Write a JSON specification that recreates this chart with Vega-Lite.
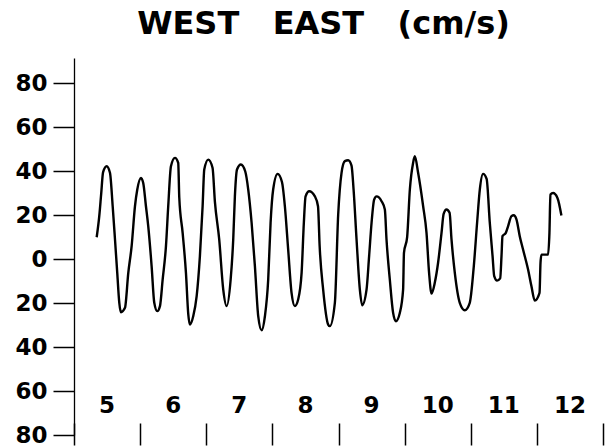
{
  "$schema": "https://vega.github.io/schema/vega-lite/v6.json",
  "width": 529,
  "height": 377,
  "autosize": "none",
  "padding": {"left": 74, "top": 58, "right": 13, "bottom": 12},
  "background": "white",
  "title": {"text": "WEST\u00a0\u00a0\u00a0EAST\u00a0\u00a0\u00a0(cm/s)", "font": "DejaVu Sans", "fontSize": 32, "fontWeight": "bold", "color": "black", "anchor": "middle", "frame": "group", "dx": -15, "dy": 31, "baseline": "alphabetic", "offset": 23},
  "config": {"view": {"stroke": null}},
  "datasets": {
    "curve": [
      {"day": 4.843, "v": 9.9}, {"day": 4.882, "v": 19.5}, {"day": 4.912, "v": 30}, {"day": 4.94, "v": 39.5}, {"day": 4.994, "v": 42.2},
      {"day": 5.044, "v": 39.2}, {"day": 5.085, "v": 24}, {"day": 5.12, "v": 8.9}, {"day": 5.154, "v": -6.3}, {"day": 5.185, "v": -19.9},
      {"day": 5.21, "v": -24.2}, {"day": 5.271, "v": -22.2}, {"day": 5.321, "v": -6.3}, {"day": 5.372, "v": 6}, {"day": 5.422, "v": 24},
      {"day": 5.457, "v": 31.6}, {"day": 5.513, "v": 36.9}, {"day": 5.547, "v": 34.6}, {"day": 5.588, "v": 24}, {"day": 5.623, "v": 14.9},
      {"day": 5.674, "v": -3.3}, {"day": 5.714, "v": -19.9}, {"day": 5.759, "v": -23.7}, {"day": 5.8, "v": -21.4}, {"day": 5.841, "v": -9.3},
      {"day": 5.891, "v": 6}, {"day": 5.925, "v": 24}, {"day": 5.966, "v": 42.2}, {"day": 6.027, "v": 46}, {"day": 6.076, "v": 43.7},
      {"day": 6.092, "v": 28}, {"day": 6.143, "v": 11.9}, {"day": 6.193, "v": -6.3}, {"day": 6.228, "v": -25}, {"day": 6.253, "v": -29.8},
      {"day": 6.303, "v": -26}, {"day": 6.355, "v": -16.9}, {"day": 6.404, "v": 1.3}, {"day": 6.445, "v": 24}, {"day": 6.47, "v": 40.7},
      {"day": 6.53, "v": 45.2}, {"day": 6.595, "v": 41.5}, {"day": 6.631, "v": 26}, {"day": 6.696, "v": 8.9}, {"day": 6.757, "v": -13.9},
      {"day": 6.808, "v": -21.4}, {"day": 6.869, "v": -9.3}, {"day": 6.908, "v": 8.9}, {"day": 6.933, "v": 28.5}, {"day": 6.965, "v": 40.7},
      {"day": 7.024, "v": 43}, {"day": 7.09, "v": 39.8}, {"day": 7.135, "v": 31.6}, {"day": 7.186, "v": 16.5}, {"day": 7.236, "v": -3.3},
      {"day": 7.286, "v": -26}, {"day": 7.337, "v": -32.4}, {"day": 7.387, "v": -26}, {"day": 7.437, "v": -9.3}, {"day": 7.473, "v": 16.5},
      {"day": 7.512, "v": 31.6}, {"day": 7.579, "v": 38.7}, {"day": 7.645, "v": 35}, {"day": 7.689, "v": 24}, {"day": 7.739, "v": 4.3},
      {"day": 7.79, "v": -15.4}, {"day": 7.84, "v": -21.4}, {"day": 7.89, "v": -18.4}, {"day": 7.942, "v": -6.3}, {"day": 7.976, "v": 16.5},
      {"day": 8.002, "v": 28.5}, {"day": 8.057, "v": 30.8}, {"day": 8.143, "v": 28.5}, {"day": 8.19, "v": 24}, {"day": 8.215, "v": 5.8},
      {"day": 8.268, "v": -13.9}, {"day": 8.344, "v": -29.8}, {"day": 8.369, "v": -30.5}, {"day": 8.445, "v": -19.9}, {"day": 8.495, "v": 20},
      {"day": 8.546, "v": 39.2}, {"day": 8.596, "v": 44.5}, {"day": 8.646, "v": 44.9}, {"day": 8.697, "v": 42.5}, {"day": 8.728, "v": 31.6},
      {"day": 8.773, "v": 8.9}, {"day": 8.823, "v": -13.9}, {"day": 8.858, "v": -21}, {"day": 8.924, "v": -13.9}, {"day": 8.963, "v": 1.3},
      {"day": 9.0, "v": 16.5}, {"day": 9.039, "v": 27}, {"day": 9.075, "v": 28.5}, {"day": 9.151, "v": 26.3}, {"day": 9.201, "v": 22.5},
      {"day": 9.226, "v": 8.9}, {"day": 9.276, "v": -9.3}, {"day": 9.326, "v": -24.5}, {"day": 9.367, "v": -28.3}, {"day": 9.427, "v": -24.5},
      {"day": 9.477, "v": -13.9}, {"day": 9.49, "v": 2.8}, {"day": 9.538, "v": 10}, {"day": 9.579, "v": 31.6}, {"day": 9.628, "v": 43.7},
      {"day": 9.654, "v": 46.7}, {"day": 9.704, "v": 39.2}, {"day": 9.78, "v": 24}, {"day": 9.831, "v": 11.9}, {"day": 9.87, "v": -6.3},
      {"day": 9.907, "v": -15.7}, {"day": 9.956, "v": -10.8}, {"day": 10.006, "v": -1.7}, {"day": 10.058, "v": 11.9}, {"day": 10.09, "v": 20.5},
      {"day": 10.133, "v": 22.5}, {"day": 10.18, "v": 21}, {"day": 10.209, "v": 8.9}, {"day": 10.259, "v": -6.3}, {"day": 10.334, "v": -19.9},
      {"day": 10.41, "v": -23.3}, {"day": 10.485, "v": -19.9}, {"day": 10.546, "v": -3.3}, {"day": 10.596, "v": 16.5}, {"day": 10.637, "v": 31.6},
      {"day": 10.686, "v": 38.7}, {"day": 10.74, "v": 36.4}, {"day": 10.788, "v": 16.5}, {"day": 10.83, "v": 1.3}, {"day": 10.855, "v": -7.8},
      {"day": 10.898, "v": -9.8}, {"day": 10.945, "v": -8.8}, {"day": 10.965, "v": 1.3}, {"day": 10.98, "v": 10.4}, {"day": 11.03, "v": 11.9},
      {"day": 11.064, "v": 14.9}, {"day": 11.116, "v": 19.5}, {"day": 11.15, "v": 19.9}, {"day": 11.191, "v": 18}, {"day": 11.241, "v": 10.4},
      {"day": 11.291, "v": 4.3}, {"day": 11.367, "v": -4.8}, {"day": 11.418, "v": -12.4}, {"day": 11.468, "v": -18.9}, {"day": 11.54, "v": -15.4},
      {"day": 11.555, "v": -1.7}, {"day": 11.569, "v": 2}, {"day": 11.669, "v": 2}, {"day": 11.69, "v": 11.9}, {"day": 11.705, "v": 29.3},
      {"day": 11.745, "v": 30}, {"day": 11.811, "v": 27.8}, {"day": 11.871, "v": 19.8}
    ],
    "days": [
      {"day": 5, "label": "5"}, {"day": 6, "label": "6"}, {"day": 7, "label": "7"}, {"day": 8, "label": "8"},
      {"day": 9, "label": "9"}, {"day": 10, "label": "10"}, {"day": 11, "label": "11"}, {"day": 12, "label": "12"}
    ]
  },
  "layer": [
    {
      "data": {"name": "curve"},
      "mark": {"type": "line", "color": "black", "strokeWidth": 2.4, "interpolate": "monotone"},
      "encoding": {
        "x": {
          "field": "day", "type": "quantitative",
          "scale": {"domain": [4.5, 12.5], "nice": false, "zero": false},
          "axis": {"values": [4.5, 5.5, 6.5, 7.5, 8.5, 9.5, 10.5, 11.5, 12.5], "labels": false, "domain": false, "grid": false, "tickSize": 22, "offset": -12, "tickColor": "black", "tickWidth": 1.5, "title": null}
        },
        "y": {
          "field": "v", "type": "quantitative",
          "scale": {"domain": [-80, 91.4], "nice": false, "zero": false},
          "axis": {"values": [-80, -60, -40, -20, 0, 20, 40, 60, 80], "labelExpr": "abs(datum.value) + ''", "grid": false, "domain": true, "domainColor": "black", "domainWidth": 1.3, "tickSize": 21, "tickColor": "black", "tickWidth": 1.5, "labelFont": "DejaVu Sans", "labelFontSize": 23, "labelFontWeight": "bold", "labelColor": "black", "labelPadding": 6, "title": null}
        }
      }
    },
    {
      "mark": {"type": "rule", "color": "black", "strokeWidth": 1.5},
      "encoding": {"y": {"datum": 0}}
    },
    {
      "mark": {"type": "rule", "color": "black", "strokeWidth": 1.8},
      "encoding": {"y": {"datum": -80}}
    },
    {
      "data": {"name": "days"},
      "mark": {"type": "text", "font": "DejaVu Sans", "fontSize": 23, "fontWeight": "bold", "color": "black", "align": "center", "baseline": "alphabetic"},
      "encoding": {
        "x": {"field": "day", "type": "quantitative"},
        "y": {"datum": -70},
        "text": {"field": "label"}
      }
    }
  ]
}
